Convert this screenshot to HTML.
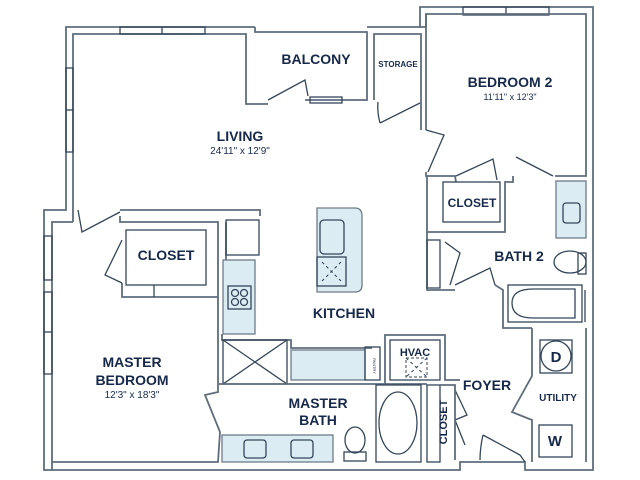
<!DOCTYPE html>
<html><head><meta charset="utf-8"><style>
html,body{margin:0;padding:0;background:#fff;}
svg{display:block}
text{font-family:"Liberation Sans",sans-serif;fill:#16294a;font-weight:bold;text-anchor:middle}
.w{fill:none;stroke:#5f6d7c;stroke-width:1.8}
.d{fill:none;stroke:#34465a;stroke-width:1.3}
.b{fill:#dcecf3;stroke:#6e7b88;stroke-width:1.3}
.t{font-weight:normal}
</style></head><body>
<svg width="640" height="480" viewBox="0 0 640 480" xmlns="http://www.w3.org/2000/svg">
<!-- outer walls -->
<polyline class="w" points="255,27 66,27 66,210 44,210 44,470 460,470 460,462 525,462 525,470 593,470 593,7 420,7 420,27 367,27"/>
<polyline class="w" points="73,222 73,34 246,34 246,104 268,104"/>
<polyline class="w" points="52,470 52,222 73,222"/>
<!-- windows -->
<rect x="120" y="27" width="85" height="7" class="d"/>
<line x1="162" y1="27" x2="162" y2="34" class="d"/>
<rect x="66" y="68" width="7" height="84" class="d"/>
<line x1="66" y1="110" x2="73" y2="110" class="d"/>
<rect x="44" y="236" width="8" height="44" class="d"/>
<rect x="44" y="292" width="8" height="82" class="d"/>
<line x1="44" y1="332" x2="52" y2="332" class="d"/>
<rect x="463" y="7" width="86" height="8" class="d"/>
<line x1="506" y1="7" x2="506" y2="15" class="d"/>
<!-- balcony -->
<polyline class="w" points="255,27 255,32 367,32 367,100 305,100"/>
<rect x="310" y="97" width="32" height="6" class="d"/>
<polyline class="d" points="268,100 305,80 308,96"/>
<!-- storage -->
<polyline class="w" points="374,100 374,34 421,34 421,100 421,130"/>
<polyline class="d" points="380,123 420,103"/>
<path d="M 380,123 Q 377,112 378,102" class="d"/>
<!-- bedroom2 -->
<polyline class="w" points="420,27 426,27 426,14 586,14 586,176 555,176"/>
<polyline class="w" points="426,14 426,130"/>
<polyline class="d" points="426,130 444,135 428,172"/>
<polyline class="w" points="426,172 426,176 455,176 456,182"/>
<polyline class="d" points="456,176 493,159 497,180"/>
<polyline class="d" points="516,157 553,176"/>
<polyline class="w" points="513,176 513,182 505,182 505,232 427,232 427,176"/>
<rect x="443" y="182" width="57" height="40" class="d"/>
<!-- bath2 -->
<rect x="556" y="181" width="30" height="57" class="b"/>
<rect x="563" y="203" width="17" height="20" rx="3" class="d"/>
<polyline class="w" points="427,232 427,290 455,290"/>
<rect x="427" y="240" width="13" height="48" class="d"/>
<polyline class="d" points="450,285 460,253 445,242"/>
<polyline class="d" points="455,285 490,268 495,285"/>
<polyline class="w" points="495,285 503,290 503,328 532,328"/>
<rect x="508" y="285" width="74" height="37" class="d"/>
<path d="M 575,289 L 533,289 Q 512,289 512,303 Q 512,318 533,318 L 575,318 Z" class="d"/>
<ellipse cx="570" cy="262" rx="16" ry="11" class="d"/>
<rect x="578" y="253" width="8" height="21" class="d"/>
<line x1="585" y1="290" x2="585" y2="322" class="d"/>
<!-- utility -->
<polyline class="w" points="532,328 532,376 512,412 532,420 532,462"/>
<rect x="540" y="340" width="32" height="33" class="d"/>
<circle cx="556" cy="356" r="15" class="d"/>
<rect x="539" y="425" width="33" height="32" class="d"/>
<line x1="586" y1="328" x2="586" y2="462" class="w"/>
<!-- foyer door -->
<polyline class="d" points="483,435 520,455 525,462"/>
<path d="M 483,435 Q 480,448 480,460" class="d"/>
<!-- living door & master closet -->
<polyline class="d" points="78,210 82,232 120,212"/>
<polyline class="w" points="120,210 260,210 260,216"/>
<polyline class="w" points="120,216 120,222 218,222 218,297 122,297 122,283"/>
<rect x="126" y="230" width="80" height="55" class="d"/>
<line x1="154" y1="285" x2="154" y2="297" class="d"/>
<polyline class="d" points="122,240 105,275 122,283"/>
<!-- master bedroom right wall -->
<polyline class="w" points="218,297 218,392 205,395 220,432 218,462 52,462"/>
<polyline class="w" points="226,262 226,222"/>
<!-- kitchen -->
<rect x="226" y="220" width="33" height="35" class="d"/>
<rect x="223" y="260" width="32" height="74" class="b"/>
<rect x="228" y="286" width="23" height="23" class="d"/>
<circle cx="235" cy="293" r="3.5" class="d"/><circle cx="244" cy="293" r="3.5" class="d"/>
<circle cx="235" cy="302" r="3.5" class="d"/><circle cx="244" cy="302" r="3.5" class="d"/>
<path d="M 317,208 L 355,208 Q 362,208 362,216 L 362,285 Q 362,292 355,292 L 317,292 Z" class="b"/>
<rect x="320" y="220" width="24" height="34" rx="4" class="d"/>
<rect x="317" y="257" width="29" height="29" class="d"/>
<line x1="322" y1="262" x2="341" y2="281" stroke="#34465a" stroke-dasharray="3,3"/>
<line x1="341" y1="262" x2="322" y2="281" stroke="#34465a" stroke-dasharray="3,3"/>
<polyline class="w" points="222,334 222,340 291,340 291,348 372,348"/>
<rect x="223" y="340" width="64" height="44" class="d"/>
<line x1="223" y1="340" x2="287" y2="384" class="d"/><line x1="287" y1="340" x2="223" y2="384" class="d"/>
<rect x="291" y="350" width="74" height="30" class="b"/>
<rect x="365" y="347" width="15" height="33" class="d"/>
<text x="373" y="366" font-size="4" transform="rotate(90 373 366)" class="t">PANTRY</text>
<polyline class="w" points="385,384 385,335 445,335 445,380 460,380"/>
<rect x="390" y="340" width="50" height="40" class="d"/>
<rect x="406" y="358" width="21" height="19" fill="none" stroke="#34465a" stroke-dasharray="3,2"/>
<line x1="406" y1="358" x2="427" y2="377" stroke="#34465a" stroke-dasharray="3,3"/>
<line x1="427" y1="358" x2="406" y2="377" stroke="#34465a" stroke-dasharray="3,3"/>
<!-- master bath -->
<line x1="218" y1="384" x2="427" y2="384" class="w"/>
<rect x="222" y="435" width="111" height="27" class="b"/>
<rect x="244" y="440" width="22" height="18" rx="3" class="d"/>
<rect x="291" y="440" width="22" height="18" rx="3" class="d"/>
<ellipse cx="355" cy="440" rx="10" ry="13" class="d"/>
<rect x="344" y="452" width="22" height="9" class="d"/>
<rect x="376" y="385" width="45" height="77" class="d"/>
<ellipse cx="398" cy="423" rx="19" ry="31" class="d"/>
<rect x="427" y="385" width="13" height="77" class="d"/>
<polyline class="d" points="455,390 467,415 455,420 465,445"/>
<polyline class="w" points="440,385 455,385 455,460"/>
<!-- labels -->
<text x="316" y="64" font-size="14">BALCONY</text>
<text x="398" y="67" font-size="8">STORAGE</text>
<text x="510" y="87" font-size="14">BEDROOM 2</text>
<text x="510" y="100" font-size="9" class="t">11'11" x 12'3"</text>
<text x="240" y="141" font-size="14">LIVING</text>
<text x="240" y="154" font-size="10" class="t">24'11" x 12'9"</text>
<text x="166" y="260" font-size="14">CLOSET</text>
<text x="472" y="207" font-size="12">CLOSET</text>
<text x="519" y="261" font-size="14">BATH 2</text>
<text x="344" y="318" font-size="14">KITCHEN</text>
<text x="132" y="367" font-size="14">MASTER</text>
<text x="132" y="385" font-size="14">BEDROOM</text>
<text x="132" y="398" font-size="10" class="t">12'3" x 18'3"</text>
<text x="318" y="408" font-size="14">MASTER</text>
<text x="318" y="425" font-size="14">BATH</text>
<text x="415" y="356" font-size="11">HVAC</text>
<text x="487" y="390" font-size="14">FOYER</text>
<text x="558" y="401" font-size="10">UTILITY</text>
<text x="556" y="362" font-size="15">D</text>
<text x="555" y="446" font-size="15">W</text>
<text x="447" y="422" font-size="11" transform="rotate(-90 447 422)">CLOSET</text>
</svg>
</body></html>
